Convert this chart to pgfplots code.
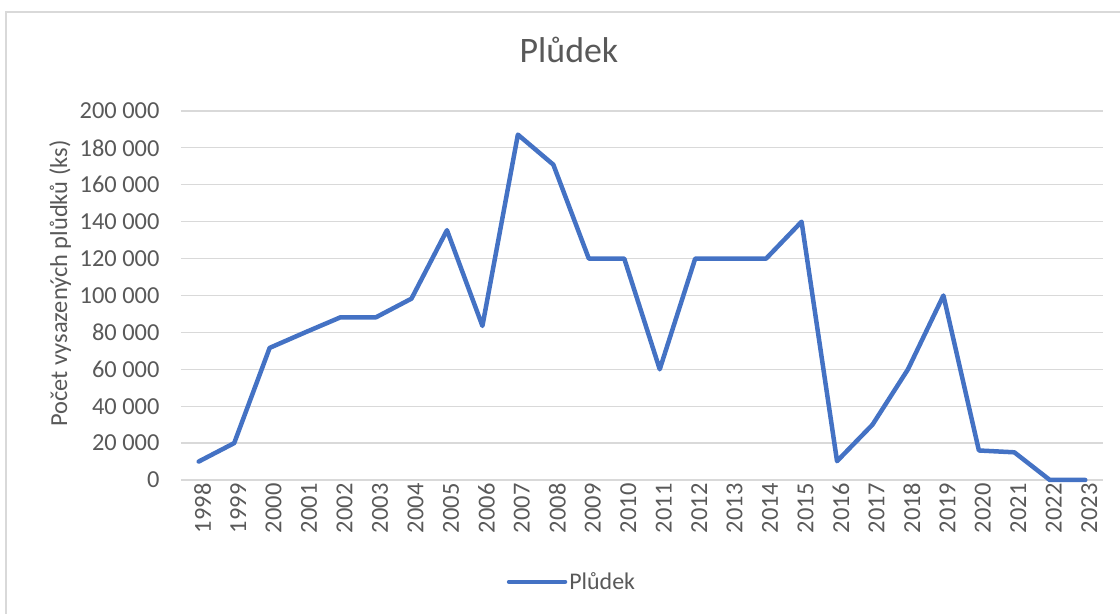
\documentclass[border=0pt]{standalone}
\usepackage{pgfplots}
\pgfplotsset{compat=1.18}
\usepackage{fontspec}
\setmainfont{Carlito}
\definecolor{txt}{HTML}{595959}
\definecolor{grid}{HTML}{D9D9D9}
\definecolor{ser}{HTML}{4472C4}
\begin{document}
\begin{tikzpicture}[x=1bp,y=1bp]
\path[use as bounding box] (-181,-134) rectangle (939,480);
\draw[grid, line width=1.2bp] (-175,-140) -- (-175,468) -- (945,468);
\begin{axis}[
  at={(0,0)}, anchor=south west,
  scale only axis, width=922bp, height=369bp,
  xmin=-0.5, xmax=25.5, ymin=0, ymax=200000,
  scaled y ticks=false,
  axis line style={draw=none},
  axis x line*=bottom,
  x axis line style={draw=grid, line width=1bp},
  tick style={draw=none},
  xtick={0,...,25},
  xticklabels={1998,1999,2000,2001,2002,2003,2004,2005,2006,2007,2008,2009,2010,2011,2012,2013,2014,2015,2016,2017,2018,2019,2020,2021,2022,2023},
  xticklabel style={rotate=90, anchor=east, yshift=-4bp, font=\fontsize{24.5}{28}\selectfont, text=txt},
  ytick={0,20000,...,200000},
  yticklabels={0,20 000,40 000,60 000,80 000,100 000,120 000,140 000,160 000,180 000,200 000},
  yticklabel style={xshift=-18bp, font=\fontsize{24.5}{28}\selectfont, text=txt},
  ymajorgrids, major grid style={draw=grid, line width=1.2bp},
  ylabel={Počet vysazených plůdků (ks)},
  ylabel style={at={(axis description cs:-0.131,0.5325)}, anchor=center, font=\fontsize{24.5}{28}\selectfont, text=txt},
  title={Plůdek},
  title style={at={(axis description cs:0.4208,1.1165)}, anchor=base, font=\fontsize{36}{40}\selectfont, text=txt},
  legend style={at={(axis description cs:0.424,-0.276)}, anchor=center, draw=none, fill=none, font=\fontsize{24}{28}\selectfont, text=txt, legend cell align=left, inner sep=0pt},
  legend image code/.code={\draw[#1, line cap=round] (0bp,0bp) -- (56bp,0bp);},
  clip=false,
]
\addplot[ser, line width=4.5bp, line join=round, line cap=round] coordinates {
(0,10000) (1,20000) (2,71600) (3,80000) (4,88200) (5,88200) (6,98300) (7,135400) (8,83500)
(9,187200) (10,170900) (11,120000) (12,120000) (13,60000) (14,120000) (15,120000) (16,120000)
(17,140000) (18,10200) (19,30000) (20,60000) (21,100000) (22,16000) (23,15000) (24,0) (25,0)
};
\addlegendentry{Plůdek}
\end{axis}
\end{tikzpicture}
\end{document}
